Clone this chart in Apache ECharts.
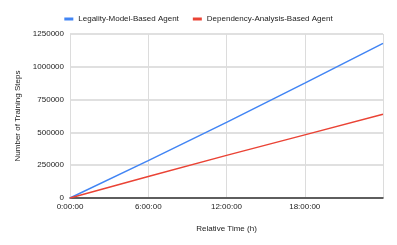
<!DOCTYPE html>
<html><head><meta charset="utf-8">
<script src="https://cdn.jsdelivr.net/npm/echarts@6/dist/echarts.min.js"></script>
<style>html,body{margin:0;padding:0;background:#fff}#c{width:397px;height:245px}</style>
</head><body><div id="c"></div>
<script>
const hours = [0, 6, 12, 18, 24];
const legalitySteps = [0, 285000, 576000, 875000, 1179000];
const dependencySteps = [0, 164000, 325000, 481000, 638000];
const seriesNames = ['Legality-Model-Based Agent', 'Dependency-Analysis-Based Agent'];
const xAxisTitle = 'Relative Time (h)';
const yAxisTitle = 'Number of Training Steps';

const font = 'Liberation Sans, Arial, sans-serif';
const chart = echarts.init(document.getElementById('c'), null, {renderer: 'canvas'});
chart.setOption({
  animation: false,
  backgroundColor: '#fff',
  textStyle: {fontFamily: font},
  legend: {
    top: 10, left: 'center',
    icon: 'rect', itemWidth: 9, itemHeight: 3, itemGap: 14,
    textStyle: {fontSize: 8, color: '#222', fontFamily: font},
    data: seriesNames
  },
  grid: {left: 70, right: 14, top: 34, bottom: 47, containLabel: false},
  xAxis: {
    type: 'value', min: 0, max: 24, interval: 6,
    name: xAxisTitle, nameLocation: 'middle', nameGap: 27,
    nameTextStyle: {fontSize: 8, color: '#222', fontFamily: font},
    axisLine: {show: true, onZero: false, lineStyle: {color: '#333', width: 1.5}},
    axisTick: {show: false},
    axisLabel: {fontSize: 8, color: '#222', margin: 5, fontFamily: font, showMaxLabel: false,
      formatter: v => v >= 24 ? '' : v + ':00:00'},
    splitLine: {show: true, lineStyle: {color: '#dcdcdc', width: 1}}
  },
  yAxis: {
    type: 'value', min: 0, max: 1250000, interval: 250000,
    name: yAxisTitle, nameLocation: 'middle', nameGap: 47, nameRotate: 90,
    nameTextStyle: {fontSize: 8, color: '#222', fontFamily: font},
    axisLine: {show: false}, axisTick: {show: false},
    axisLabel: {fontSize: 8, color: '#222', margin: 6, fontFamily: font,
      formatter: v => String(v)},
    splitLine: {show: true, lineStyle: {color: '#e0e0e0', width: 2}}
  },
  series: [
    {name: seriesNames[0], type: 'line', showSymbol: false, symbol: 'none',
     data: hours.map((h, i) => [h, legalitySteps[i]]),
     lineStyle: {color: '#4285F4', width: 1.5}, itemStyle: {color: '#4285F4'}, z: 3},
    {name: seriesNames[1], type: 'line', showSymbol: false, symbol: 'none',
     data: hours.map((h, i) => [h, dependencySteps[i]]),
     lineStyle: {color: '#EA4335', width: 1.5}, itemStyle: {color: '#EA4335'}, z: 4}
  ]
});
</script></body></html>
